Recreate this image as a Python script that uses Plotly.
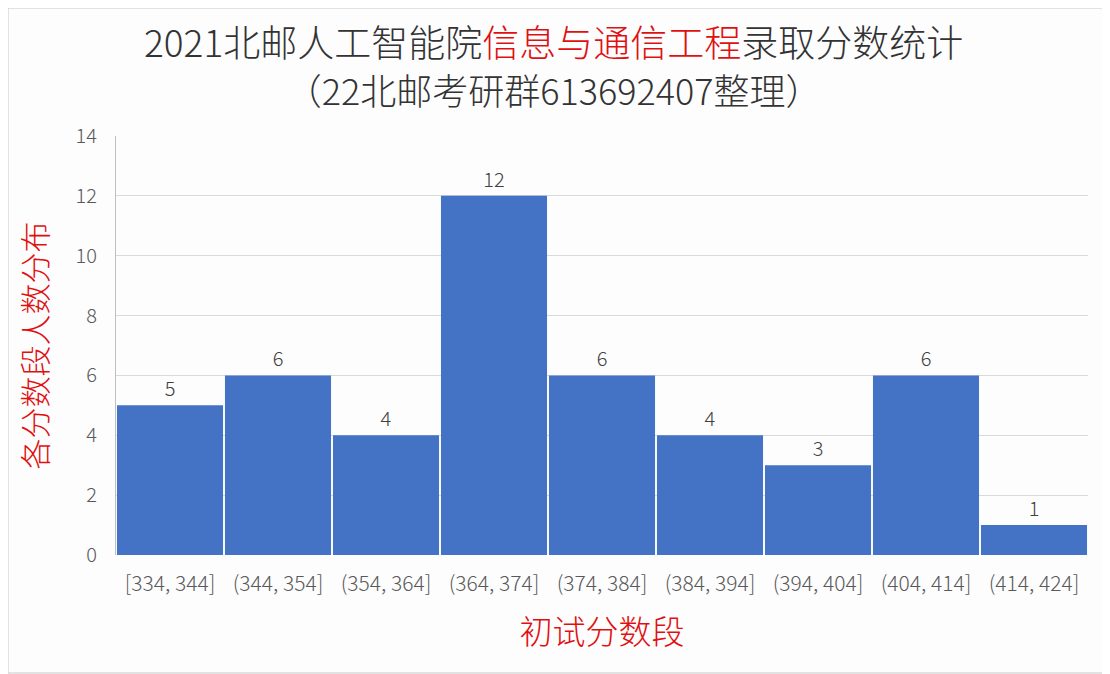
import plotly.graph_objects as go

categories = ["[334, 344]", "(344, 354]", "(354, 364]", "(364, 374]", "(374, 384]",
              "(384, 394]", "(394, 404]", "(404, 414]", "(414, 424]"]
counts = [5, 6, 4, 12, 6, 4, 3, 6, 1]
y_ticks = [0, 2, 4, 6, 8, 10, 12, 14]

title_line1 = ("2021北邮人工智能院<span style='color:#E01010'>信息与通信工程</span>录取分数统计")
title_line2 = "<span style='font-size:36px'>（22北邮考研群613692407整理）</span>"
x_title = "初试分数段"
y_title = "各分数段人数分布"

FONT = "Noto Sans CJK SC"
OFF = 8  # page body margin
W, H = 1110 - OFF, 674 - OFF
ML, MR, MT, MB = 116 - OFF, 22, 136 - OFF, 119
plot_w = W - ML - MR
plot_h = H - MT - MB


def py(pix):
    """window pixel y -> paper y"""
    return (H + OFF - MB - pix) / plot_h


def px(pix):
    return (pix - OFF - ML) / plot_w


fig = go.Figure()
fig.add_trace(go.Bar(
    x=categories, y=counts,
    marker=dict(color="#4472C4", line=dict(width=0)),
    text=counts, textposition="outside",
    textfont=dict(size=20, color="#404040", family=FONT, weight=300),
    cliponaxis=False,
))

fig.update_layout(
    width=W, height=H,
    margin=dict(l=ML, r=MR, t=MT, b=MB),
    paper_bgcolor="#FDFDFE", plot_bgcolor="#FDFDFE",
    bargap=0.018,
    showlegend=False,
    font=dict(family=FONT, color="#595959"),
    xaxis=dict(
        type="category", showgrid=False, showline=False, zeroline=False,
        tickfont=dict(size=21, color="#595959", family=FONT, weight=300),
        ticklabelstandoff=14, ticks="", tickangle=0,
        title=dict(text=x_title, font=dict(size=33, color="#E01010", family=FONT, weight=300),
                   standoff=24),
    ),
    yaxis=dict(
        range=[0, 14], tickvals=y_ticks, showgrid=True, gridcolor="#D9D9D9", gridwidth=1,
        showline=True, linecolor="#BFBFBF", linewidth=1, zeroline=False, ticks="",
        tickfont=dict(size=20, color="#595959", family=FONT, weight=300),
        ticklabelstandoff=14,
        title=dict(text=y_title, font=dict(size=31, color="#E01010", family=FONT, weight=300),
                   standoff=18),
    ),
    annotations=[
        dict(text=title_line1 + "<br>" + title_line2, x=px(553), y=py(65),
             xref="paper", yref="paper", showarrow=False, yanchor="middle",
             font=dict(size=37, color="#333333", family=FONT, weight=300)),
    ],
    shapes=[dict(type="rect", xref="paper", yref="paper",
                 x0=px(OFF), x1=px(1109), y0=py(673), y1=py(OFF),
                 line=dict(color="#C8C8C8", width=1))],
)

fig.write_html("out.html")
